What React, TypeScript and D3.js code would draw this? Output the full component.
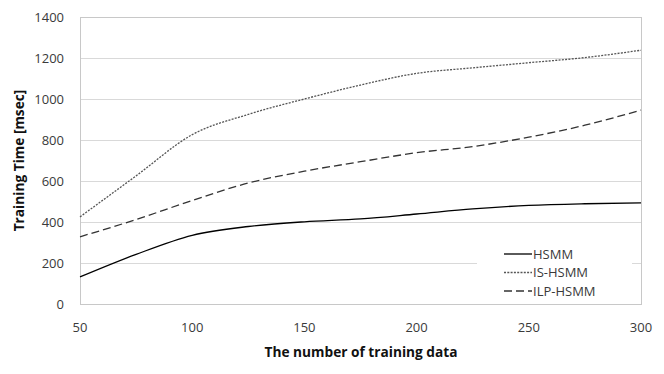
import React from "react";
import * as d3 from "d3";

const xValues = [50, 75, 100, 125, 150, 175, 200, 225, 250, 275, 300];
const hsmm = [132, 242, 335, 378, 401, 415, 439, 464, 481, 489, 493];
const isHsmm = [425, 625, 826, 925, 1000, 1068, 1125, 1152, 1177, 1202, 1238];
const ilpHsmm = [328, 412, 505, 590, 648, 694, 738, 768, 814, 872, 946];
const xTicks = [50, 100, 150, 200, 250, 300];
const yTicks = [0, 200, 400, 600, 800, 1000, 1200, 1400];

const seriesList = [
    { name: "HSMM", values: hsmm, color: "#000", dash: null, width: 1.3 },
    { name: "IS-HSMM", values: isHsmm, color: "#555", dash: "2 1.3", width: 1.3 },
    { name: "ILP-HSMM", values: ilpHsmm, color: "#333", dash: "8 4", width: 1.3 },
];

export default function App() {
    const ref = React.useRef<SVGSVGElement>(null);

    React.useEffect(() => {
        const width = 664;
        const height = 374;
        const marginLeft = 80;
        const marginRight = 23;
        const marginTop = 17;
        const marginBottom = 70;
        const font = "'Open Sans', sans-serif";

        const x = d3.scaleLinear().domain([50, 300]).range([marginLeft, width - marginRight]);
        const y = d3.scaleLinear().domain([0, 1400]).range([height - marginBottom, marginTop]);

        const svg = d3.select(ref.current)
            .attr("width", width)
            .attr("height", height)
            .attr("viewBox", [0, 0, width, height])
            .style("display", "block");

        svg.append("rect").attr("width", width).attr("height", height).attr("fill", "#fff");

        // grid
        svg.append("g")
            .selectAll()
            .data(yTicks.slice(1))
            .join("line")
            .attr("x1", x(50))
            .attr("x2", x(300))
            .attr("y1", (d) => y(d) + 0.5)
            .attr("y2", (d) => y(d) + 0.5)
            .attr("stroke", "#d9d9d9")
            .attr("stroke-width", 1);

        // plot border
        svg.append("rect")
            .attr("x", x(50) + 0.5)
            .attr("y", y(1400) + 0.5)
            .attr("width", x(300) - x(50))
            .attr("height", y(0) - y(1400))
            .attr("fill", "none")
            .attr("stroke", "#c8c8c8");

        // y tick labels
        svg.append("g")
            .selectAll()
            .data(yTicks)
            .join("text")
            .attr("x", marginLeft - 16)
            .attr("y", (d) => y(d))
            .attr("dy", "0.35em")
            .attr("text-anchor", "end")
            .attr("font-family", font)
            .attr("font-size", 13)
            .attr("fill", "#3a3a3a")
            .text((d) => d);

        // x tick labels
        svg.append("g")
            .selectAll()
            .data(xTicks)
            .join("text")
            .attr("x", (d) => x(d))
            .attr("y", y(0) + 28)
            .attr("text-anchor", "middle")
            .attr("font-family", font)
            .attr("font-size", 13)
            .attr("fill", "#3a3a3a")
            .text((d) => d);

        // axis titles
        svg.append("text")
            .attr("x", 361)
            .attr("y", 357)
            .attr("text-anchor", "middle")
            .attr("font-family", font)
            .attr("font-weight", "bold")
            .attr("font-size", 13.7)
            .attr("fill", "#111")
            .text("The number of training data");

        svg.append("text")
            .attr("transform", `translate(24,${(y(0) + y(1400)) / 2}) rotate(-90)`)
            .attr("text-anchor", "middle")
            .attr("font-family", font)
            .attr("font-weight", "bold")
            .attr("font-size", 13.7)
            .attr("fill", "#111")
            .text("Training Time [msec]");

        // series
        const line = d3.line<number>()
            .x((_, i) => x(xValues[i]))
            .y((d) => y(d))
            .curve(d3.curveMonotoneX);

        seriesList.forEach((s) => {
            const p = svg.append("path")
                .attr("d", line(s.values))
                .attr("fill", "none")
                .attr("stroke", s.color)
                .attr("stroke-width", s.width);
            if (s.dash) p.attr("stroke-dasharray", s.dash);
        });

        // legend
        const lg = svg.append("g");
        lg.append("rect")
            .attr("x", 477)
            .attr("y", 240)
            .attr("width", 155)
            .attr("height", 62)
            .attr("fill", "#fff");
        seriesList.forEach((s, i) => {
            const ly = 254 + i * 18.5;
            const l = lg.append("line")
                .attr("x1", 504)
                .attr("x2", 532)
                .attr("y1", ly)
                .attr("y2", ly)
                .attr("stroke", s.color)
                .attr("stroke-width", s.width);
            if (s.dash) l.attr("stroke-dasharray", s.dash);
            lg.append("text")
                .attr("x", 533)
                .attr("y", ly)
                .attr("dy", "0.35em")
                .attr("font-family", font)
                .attr("font-size", 13)
                .attr("fill", "#3a3a3a")
                .text(s.name);
        });

        return () => {
            svg.selectAll("*").remove();
        };
    }, []);

    return (
        <div style={{ margin: -8 }}>
            <svg ref={ref}></svg>
        </div>
    );
}
